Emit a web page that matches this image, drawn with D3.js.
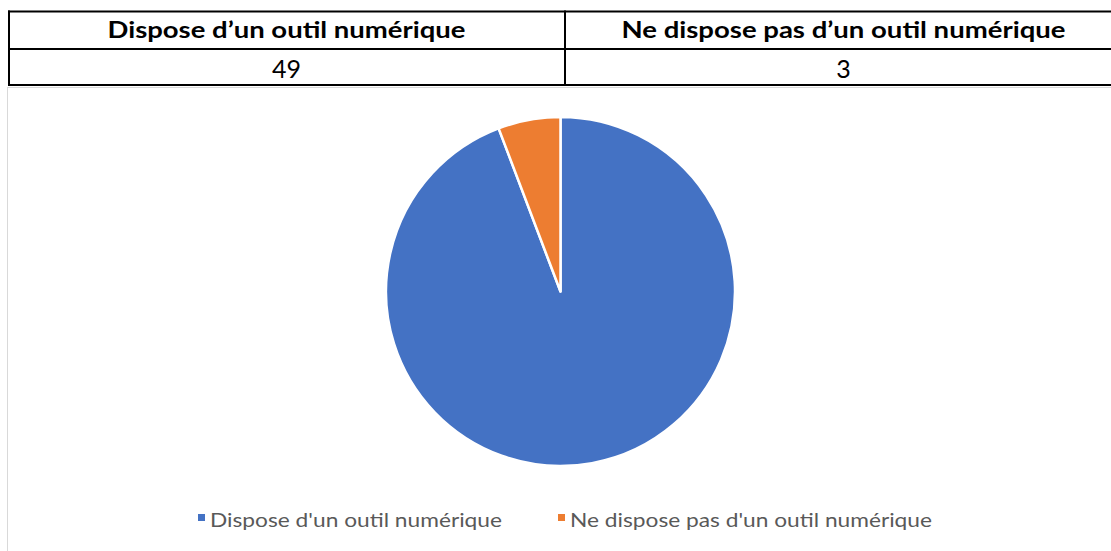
<!DOCTYPE html>
<html>
<head>
<meta charset="utf-8">
<script src="https://cdn.jsdelivr.net/npm/d3@7"></script>
<style>
  html, body { margin: 0; padding: 0; background: #fff; }
  svg { display: block; }
</style>
</head>
<body>
<svg id="chart" width="1111" height="551"></svg>
<script>
// ---- data ----
const categories = ["Dispose d\u2019un outil numérique", "Ne dispose pas d\u2019un outil numérique"];
const legendLabels = ["Dispose d'un outil numérique", "Ne dispose pas d'un outil numérique"];
const values = [49, 3];
const colors = ["#4472C4", "#ED7D31"];

const svg = d3.select("#chart");
const FONT = "Lato, 'Open Sans', sans-serif";

// ---- chart area border (light grey) ----
svg.append("rect")
  .attr("x", 7.5).attr("y", 87.5)
  .attr("width", 1200).attr("height", 600)
  .attr("fill", "#fff")
  .attr("stroke", "#d9d9d9").attr("stroke-width", 1);

// ---- table ----
const colX = d3.scaleBand().domain(categories).range([8, 1122]);
const tableTop = 11.5, rowMid = 49, tableBottom = 85;
const tg = svg.append("g");
[tableTop, rowMid, tableBottom].forEach(y => {
  tg.append("line").attr("x1", 8).attr("x2", 1111).attr("y1", y).attr("y2", y)
    .attr("stroke", "#000").attr("stroke-width", 2);
});
[9, 565].forEach(x => {
  tg.append("line").attr("x1", x).attr("x2", x).attr("y1", tableTop - 1).attr("y2", tableBottom + 1)
    .attr("stroke", "#000").attr("stroke-width", 2);
});

const headerWidths = [358, 444];
categories.forEach((c, i) => {
  const cx = colX(c) + colX.bandwidth() / 2;
  tg.append("text")
    .attr("x", cx).attr("y", 38)
    .attr("text-anchor", "middle")
    .attr("font-family", FONT).attr("font-weight", "bold").attr("font-size", 22)
    .attr("textLength", headerWidths[i]).attr("lengthAdjust", "spacingAndGlyphs")
    .attr("fill", "#000")
    .text(c);
  tg.append("text")
    .attr("x", cx).attr("y", 78)
    .attr("text-anchor", "middle")
    .attr("font-family", FONT).attr("font-size", 25)
    .attr("fill", "#000")
    .text(values[i]);
});

// ---- pie ----
const cx = 560.5, cy = 291.5, r = 174.5;
const pie = d3.pie().sort(null).value(d => d)(values);
const arc = d3.arc().innerRadius(0).outerRadius(r);
svg.append("g").attr("transform", `translate(${cx},${cy})`)
  .selectAll("path").data(pie).join("path")
  .attr("d", arc)
  .attr("fill", (d, i) => colors[i])
  .attr("stroke", "#fff").attr("stroke-width", 2.5).attr("stroke-linejoin", "round");

// ---- legend ----
const legX = [198, 558];
const legW = [292, 362];
const lg = svg.append("g");
legendLabels.forEach((l, i) => {
  lg.append("rect")
    .attr("x", legX[i]).attr("y", 514).attr("width", 7).attr("height", 7)
    .attr("fill", colors[i]);
  lg.append("text")
    .attr("x", legX[i] + 12).attr("y", 526.5)
    .attr("font-family", FONT).attr("font-size", 20)
    .attr("textLength", legW[i]).attr("lengthAdjust", "spacingAndGlyphs")
    .attr("fill", "#595959")
    .text(l);
});
</script>
</body>
</html>
